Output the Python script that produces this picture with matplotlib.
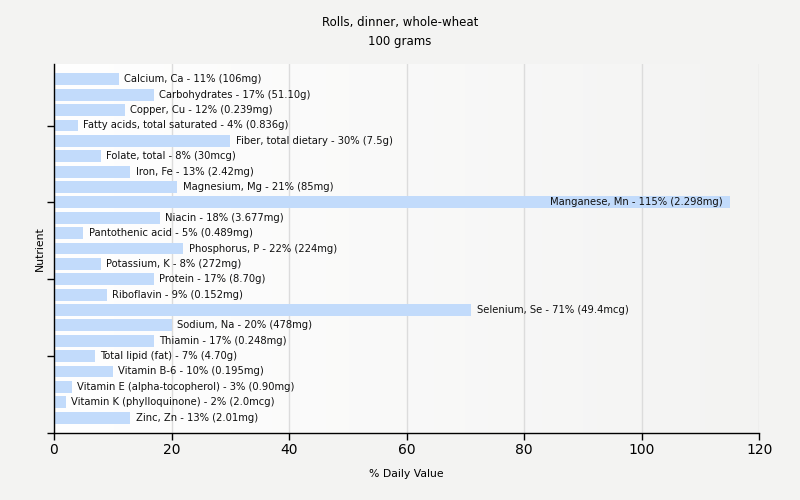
import numpy as np
import matplotlib
matplotlib.use("Agg")
import matplotlib.pyplot as plt
from matplotlib.colors import LinearSegmentedColormap

nutrients = [
    "Calcium, Ca", "Carbohydrates", "Copper, Cu", "Fatty acids, total saturated",
    "Fiber, total dietary", "Folate, total", "Iron, Fe", "Magnesium, Mg",
    "Manganese, Mn", "Niacin", "Pantothenic acid", "Phosphorus, P",
    "Potassium, K", "Protein", "Riboflavin", "Selenium, Se", "Sodium, Na",
    "Thiamin", "Total lipid (fat)", "Vitamin B-6", "Vitamin E (alpha-tocopherol)",
    "Vitamin K (phylloquinone)", "Zinc, Zn",
]
pct = [11, 17, 12, 4, 30, 8, 13, 21, 115, 18, 5, 22, 8, 17, 9, 71, 20, 17, 7, 10, 3, 2, 13]
amounts = [
    "106mg", "51.10g", "0.239mg", "0.836g", "7.5g", "30mcg", "2.42mg", "85mg",
    "2.298mg", "3.677mg", "0.489mg", "224mg", "272mg", "8.70g", "0.152mg",
    "49.4mcg", "478mg", "0.248mg", "4.70g", "0.195mg", "0.90mg", "2.0mcg", "2.01mg",
]

bg = "#f3f3f2"
bar_color = "#c2dbfb"

fig = plt.figure(figsize=(8, 5), dpi=100, facecolor=bg)
ax = fig.add_axes([0.0675, 0.134, 0.8815, 0.738])

# plot area gradient: white on the left to background grey on the right
grad = LinearSegmentedColormap.from_list("g", ["#ffffff", bg])
ax.imshow(np.linspace(0, 1, 256).reshape(1, -1), cmap=grad, aspect="auto",
          extent=[0, 1, 0, 1], transform=ax.transAxes, zorder=0)

n = len(nutrients)
ypos = np.arange(n, 0, -1)
ax.barh(ypos, pct, height=0.78, color=bar_color, zorder=2)

xmax = 120
for y, p, name, amt in zip(ypos, pct, nutrients, amounts):
    label = f"{name} - {p}% ({amt})"
    if p > 100:
        ax.text(p - 1.2, y, label, ha="right", va="center", fontsize=7.2,
                color="#111111", zorder=3)
    else:
        ax.text(p + 0.9, y, label, ha="left", va="center", fontsize=7.2,
                color="#111111", zorder=3)

ax.set_xlim(0, xmax)
ax.set_ylim(0, n + 1)
ax.set_xticks(range(0, 121, 20))
ax.set_yticks(range(0, n + 1, 5))
ax.set_yticklabels([])
ax.tick_params(axis="x", labelsize=10, length=5, width=1, color="black", pad=2)
ax.tick_params(axis="y", length=5, width=1, color="black")
ax.grid(axis="x", color="#dcdcdc", linewidth=1, zorder=1)
ax.set_axisbelow(True)
for s in ["top", "right"]:
    ax.spines[s].set_visible(False)
ax.spines["left"].set_linewidth(1)
ax.spines["bottom"].set_linewidth(1)

ax.set_xlabel("% Daily Value", fontsize=7.8, labelpad=9)
ax.set_ylabel("Nutrient", fontsize=7.8, labelpad=-2)
fig.text(0.5, 0.968, "Rolls, dinner, whole-wheat\n100 grams", ha="center",
         va="top", fontsize=8.5, linespacing=1.6)

fig.savefig("out.png", dpi=100, facecolor=bg)
